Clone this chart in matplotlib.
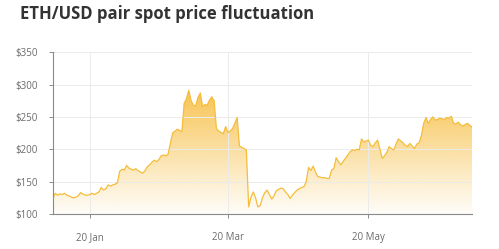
#!/usr/bin/env python3

import numpy as np
import pandas as pd
import matplotlib
matplotlib.use("Agg")
import matplotlib.pyplot as plt
import matplotlib.dates as mdates
from matplotlib.patches import PathPatch
from matplotlib.colors import to_rgb

# daily ETH/USD spot price
START = "2020-01-04"
prices = [
    124, 132, 129, 131, 130, 132, 129, 128, 126, 125,
    126, 128, 133, 131, 129, 129, 130, 132, 130, 132,
    134, 141, 137, 139, 145, 143, 145, 146, 148, 166,
    169, 168, 175, 171, 169, 168, 170, 167, 165, 163,
    167, 173, 176, 180, 183, 181, 184, 190, 191, 190,
    192, 209, 225, 228, 231, 229, 227, 271, 278, 291,
    275, 268, 267, 280, 287, 266, 269, 268, 276, 281,
    275, 232, 228, 226, 224, 235, 226, 228, 232, 240,
    249, 205, 203, 201, 199, 111, 126, 134, 125, 111,
    113, 125, 133, 137, 130, 123, 128, 136, 138, 140,
    139, 134, 130, 124, 129, 133, 137, 139, 141, 142,
    150, 172, 167, 174, 165, 158, 157, 156, 156, 155,
    155, 168, 170, 187, 181, 176, 181, 186, 191, 196,
    199, 198, 200, 199, 216, 211, 213, 214, 206, 204,
    210, 214, 200, 186, 190, 195, 204, 201, 199, 208,
    216, 213, 210, 206, 204, 209, 205, 201, 208, 210,
    221, 240, 249, 240, 246, 250, 245, 246, 248, 247,
    246, 249, 248, 251, 240, 239, 242, 238, 236, 238,
    240, 237, 234,
]
tick_dates = ["2020-01-20", "2020-03-20", "2020-05-20"]
tick_labels = ["20 Jan", "20 Mar", "20 May"]
y_ticks = [100, 150, 200, 250, 300, 350]

LINE = "#F5BD3A"
FILL = "#F7C14A"
TEXT = "#6b6b6b"


def main():
    dates = pd.date_range(START, periods=len(prices), freq="D")
    x = mdates.date2num(dates.to_pydatetime())
    y = np.array(prices, dtype=float)

    fig = plt.figure(figsize=(4.99, 2.49), dpi=100)
    ax = fig.add_axes([0.106, 0.1406, 0.84, 0.65])
    fig.text(0.04, 0.944, "ETH/USD pair spot price fluctuation", fontsize=12,
             fontweight="bold", color="#333333", family=["Open Sans", "DejaVu Sans"],
             va="center", ha="left")

    ax.set_xlim(x[0], x[-1])
    ax.set_ylim(100, 350)

    # gradient fill under the line, clipped to the area shape
    area = ax.fill_between(x, y, 100, color="none", linewidth=0)
    clip = PathPatch(area.get_paths()[0], transform=ax.transData,
                     facecolor="none", edgecolor="none")
    ax.add_patch(clip)
    grad = np.zeros((256, 1, 4))
    grad[:, 0, :3] = to_rgb(FILL)
    grad[:, 0, 3] = np.linspace(0.03, 1.0, 256)
    im = ax.imshow(grad, extent=(x[0], x[-1], 100, 300), origin="lower",
                   aspect="auto", zorder=0.5)
    im.set_clip_path(clip)

    ax.plot(x, y, color=LINE, linewidth=0.9, zorder=2)

    ax.set_yticks(y_ticks)
    ax.set_yticklabels([f"${v}" for v in y_ticks])
    ax.set_xticks(mdates.date2num(pd.to_datetime(tick_dates).to_pydatetime()))
    ax.set_xticklabels(tick_labels)

    ax.grid(True, color="#ebebeb", linewidth=0.7)
    for side in ("top", "right"):
        ax.spines[side].set_visible(False)
    for side in ("left", "bottom"):
        ax.spines[side].set_color("#8a8a8a")
        ax.spines[side].set_linewidth(0.8)
    ax.tick_params(axis="y", length=3, width=0.7, color="#8a8a8a", pad=8,
                   labelsize=7, labelcolor=TEXT)
    ax.tick_params(axis="x", length=3, width=0.7, color="#8a8a8a", pad=10,
                   labelsize=7, labelcolor=TEXT)
    for lbl in ax.get_xticklabels() + ax.get_yticklabels():
        lbl.set_family(["Open Sans", "DejaVu Sans"])

    fig.savefig("out.png", dpi=100)


if __name__ == "__main__":
    main()
